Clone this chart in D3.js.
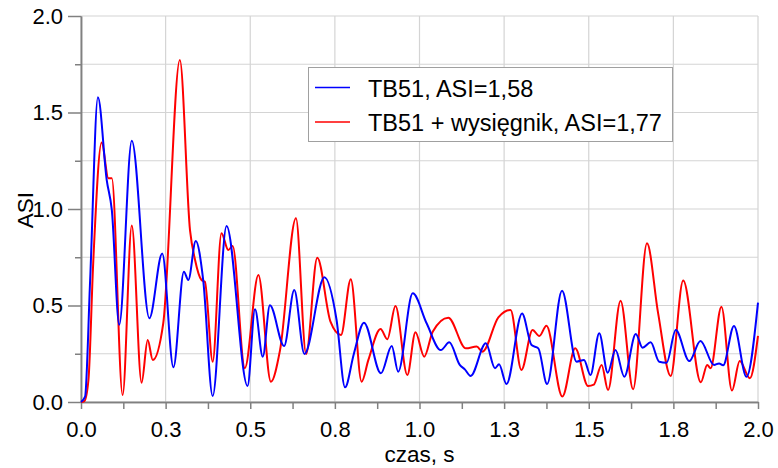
<!DOCTYPE html>
<html><head><meta charset="utf-8">
<script src="https://cdn.jsdelivr.net/npm/d3@7"></script>
<style>body{margin:0;background:#fff;}svg{display:block;font-family:"Liberation Sans",Arial,sans-serif;}</style>
</head><body>
<svg id="c" width="778" height="468"></svg>
<script>
const xTickValues = [0, 0.25, 0.5, 0.75, 1.0, 1.25, 1.5, 1.75, 2.0];
const xTickLabels = ["0.0","0.3","0.5","0.8","1.0","1.3","1.5","1.8","2.0"];
const yTickValues = [0, 0.5, 1.0, 1.5, 2.0];
const yTickLabels = ["0.0","0.5","1.0","1.5","2.0"];
const seriesNames = ["TB51, ASI=1,58", "TB51 + wysięgnik, ASI=1,77"];
const seriesColors = ["#0000ff", "#ff0000"];

const blueTime = [0,0.012,0.027,0.050,0.076,0.091,0.113,0.150,0.202,0.240,0.273,0.304,0.317,0.339,0.361,0.389,0.430,0.492,0.514,0.537,0.558,0.600,0.630,0.660,0.719,0.755,0.780,0.806,0.836,0.886,0.918,0.937,0.980,1.021,1.063,1.088,1.119,1.134,1.151,1.196,1.223,1.235,1.257,1.303,1.331,1.351,1.377,1.421,1.464,1.486,1.505,1.531,1.556,1.579,1.605,1.639,1.659,1.683,1.708,1.730,1.757,1.797,1.830,1.870,1.885,1.897,1.929,1.966,2.0];
const blueASI = [0,0.028,0.632,1.579,1.15,0.995,0.40,1.354,0.434,0.770,0.18,0.675,0.632,0.834,0.632,0.031,0.912,0.083,0.480,0.235,0.501,0.290,0.580,0.249,0.646,0.425,0.076,0.249,0.411,0.149,0.290,0.157,0.563,0.408,0.269,0.309,0.192,0.169,0.135,0.304,0.175,0.195,0.093,0.459,0.295,0.278,0.093,0.577,0.209,0.218,0.140,0.356,0.152,0.269,0.131,0.352,0.281,0.309,0.209,0.204,0.373,0.212,0.316,0.192,0.200,0.190,0.394,0.131,0.515];

const redTime = [0,0.010,0.022,0.036,0.061,0.081,0.091,0.123,0.150,0.179,0.197,0.212,0.243,0.292,0.322,0.337,0.356,0.366,0.389,0.415,0.435,0.448,0.484,0.524,0.561,0.588,0.635,0.665,0.698,0.737,0.768,0.797,0.829,0.849,0.885,0.905,0.929,0.964,0.988,1.014,1.039,1.085,1.137,1.169,1.186,1.233,1.269,1.301,1.334,1.354,1.375,1.422,1.460,1.498,1.515,1.538,1.557,1.594,1.631,1.672,1.705,1.742,1.779,1.831,1.850,1.860,1.892,1.923,1.946,1.976,2.0];
const redASI = [0,0.005,0.114,0.718,1.344,1.159,1.159,0.036,0.914,0.100,0.321,0.218,0.408,1.772,0.891,0.736,0.632,0.623,0.209,0.874,0.788,0.808,0.175,0.658,0.105,0.269,0.952,0.249,0.748,0.416,0.347,0.636,0.105,0.218,0.378,0.325,0.497,0.140,0.361,0.235,0.364,0.437,0.278,0.287,0.261,0.439,0.477,0.166,0.373,0.342,0.395,0.028,0.278,0.083,0.09,0.192,0.062,0.525,0.066,0.822,0.459,0.135,0.629,0.102,0.192,0.175,0.494,0.059,0.212,0.123,0.342];

const svg = d3.select("#c");
const L = 81, R = 758, T = 16, B = 402;
const x = d3.scaleLinear().domain([0, 2]).range([L, R]);
const y = d3.scaleLinear().domain([0, 2]).range([B, T]);

// grid
const gx = d3.range(0, 2.0001, 0.25);
const gy = d3.range(0, 2.0001, 0.25);
svg.append("g").selectAll("line").data(gx).join("line")
  .attr("x1", d => x(d)).attr("x2", d => x(d)).attr("y1", T).attr("y2", B)
  .attr("stroke", "#d4d4d4").attr("stroke-width", 1.2);
svg.append("g").selectAll("line").data(gy).join("line")
  .attr("x1", L).attr("x2", R).attr("y1", d => y(d)).attr("y2", d => y(d))
  .attr("stroke", "#d4d4d4").attr("stroke-width", 1.2);

// axes
const xAxis = d3.axisBottom(x).tickValues(xTickValues)
  .tickFormat((d, i) => xTickLabels[i]).tickSizeInner(7).tickSizeOuter(0).tickPadding(12);
const xMinor = d3.axisBottom(x).tickValues(d3.range(0.125, 2, 0.25)).tickFormat("").tickSizeInner(7).tickSizeOuter(0);
const yAxis = d3.axisLeft(y).tickValues(yTickValues)
  .tickFormat((d, i) => yTickLabels[i]).tickSizeInner(13).tickSizeOuter(0).tickPadding(5);
const yMinor = d3.axisLeft(y).tickValues(d3.range(0.25, 2, 0.5)).tickFormat("").tickSizeInner(6).tickSizeOuter(0);

function styleAxis(g) {
  g.select(".domain").attr("stroke", "#808080").attr("stroke-width", 1.5);
  g.selectAll(".tick line").attr("stroke", "#808080").attr("stroke-width", 1.5);
  g.selectAll(".tick text").attr("fill", "#000").style("font-size", "22px");
}
svg.append("g").attr("transform", `translate(0,${B})`).call(xMinor).call(styleAxis);
svg.append("g").attr("transform", `translate(0,${B})`).call(xAxis).call(styleAxis);
svg.append("g").attr("transform", `translate(${L},0)`).call(yMinor).call(styleAxis);
svg.append("g").attr("transform", `translate(${L},0)`).call(yAxis).call(styleAxis);

// axis titles
svg.append("text").attr("x", (L + R) / 2).attr("y", 462).attr("text-anchor", "middle")
  .style("font-size", "22.5px").text("czas, s");
svg.append("text").attr("transform", "translate(33,210) rotate(-90)").attr("text-anchor", "middle")
  .style("font-size", "22.5px").text("ASI");

// lines
const line = d3.line().x(d => x(d[0])).y(d => y(d[1])).curve(d3.curveMonotoneX);
const series = [d3.zip(blueTime, blueASI), d3.zip(redTime, redASI)];
[1, 0].forEach(i => {
  svg.append("path").datum(series[i]).attr("d", line)
    .attr("fill", "none").attr("stroke", seriesColors[i]).attr("stroke-width", 2)
    .attr("stroke-linejoin", "round");
});

// legend
const lg = svg.append("g");
lg.append("rect").attr("x", 308.5).attr("y", 67.5).attr("width", 364).attr("height", 74)
  .attr("fill", "#fff").attr("stroke", "#a0a0a0").attr("stroke-width", 1);
seriesNames.forEach((n, i) => {
  const yy = 87.5 + i * 34.5;
  lg.append("line").attr("x1", 315).attr("x2", 350).attr("y1", yy).attr("y2", yy)
    .attr("stroke", seriesColors[i]).attr("stroke-width", 1.5);
  lg.append("text").attr("x", 368).attr("y", yy + 9).style("font-size", "23.5px").text(n);
});
</script>
</body></html>
